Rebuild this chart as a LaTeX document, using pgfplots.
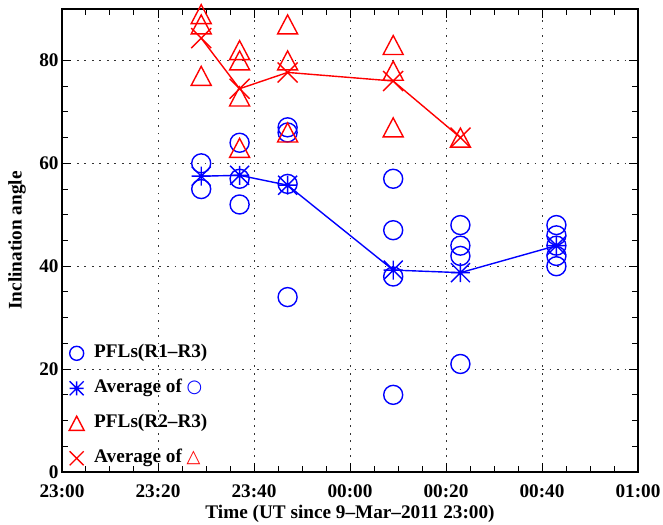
\documentclass[border=0pt]{standalone}
\usepackage{pgfplots}
\pgfplotsset{compat=1.18}
\usepackage{fontspec}
\setmainfont{Liberation Serif}
\newfontfamily\dejavu{DejaVu Sans}

\pgfdeclareplotmark{idlstar}{%
  \pgfpathmoveto{\pgfqpoint{-\pgfplotmarksize}{0pt}}\pgfpathlineto{\pgfqpoint{\pgfplotmarksize}{0pt}}%
  \pgfpathmoveto{\pgfqpoint{0pt}{-\pgfplotmarksize}}\pgfpathlineto{\pgfqpoint{0pt}{\pgfplotmarksize}}%
  \pgfpathmoveto{\pgfqpoint{-\pgfplotmarksize}{-\pgfplotmarksize}}\pgfpathlineto{\pgfqpoint{\pgfplotmarksize}{\pgfplotmarksize}}%
  \pgfpathmoveto{\pgfqpoint{-\pgfplotmarksize}{\pgfplotmarksize}}\pgfpathlineto{\pgfqpoint{\pgfplotmarksize}{-\pgfplotmarksize}}%
  \pgfusepathqstroke}
\pgfdeclareplotmark{idlx}{%
  \pgfpathmoveto{\pgfqpoint{-\pgfplotmarksize}{-\pgfplotmarksize}}\pgfpathlineto{\pgfqpoint{\pgfplotmarksize}{\pgfplotmarksize}}%
  \pgfpathmoveto{\pgfqpoint{-\pgfplotmarksize}{\pgfplotmarksize}}\pgfpathlineto{\pgfqpoint{\pgfplotmarksize}{-\pgfplotmarksize}}%
  \pgfusepathqstroke}
\pgfdeclareplotmark{idltri}{%
  \pgfpathmoveto{\pgfqpoint{0pt}{0.95\pgfplotmarksize}}%
  \pgfpathlineto{\pgfqpoint{\pgfplotmarksize}{-0.95\pgfplotmarksize}}%
  \pgfpathlineto{\pgfqpoint{-\pgfplotmarksize}{-0.95\pgfplotmarksize}}%
  \pgfpathclose\pgfusepathqstroke}

\pgfplotstableread{
x y
29 60
29 55
37 64
37 57
37 52
47 67
47 66
47 56
47 34
69 57
69 47
69 38
69 15
83 48
83 44
83 42
83 21
103 48
103 46
103 44
103 42
103 40
}\circdata
\pgfplotstableread{
x y
29 57.5
37 57.67
47 55.75
69 39.25
83 38.75
103 44
}\stardata
\pgfplotstableread{
x y
29 89
29 87
29 77
37 82
37 80
37 73
37 63
47 87
47 80
47 66
69 83
69 78
69 67
83 65
}\tridata
\pgfplotstableread{
x y
29 84.33
37 74.5
47 77.67
69 76
83 65
}\crossdata

\begin{document}
\begin{tikzpicture}
\path[use as bounding box] (-62bp,-53bp) rectangle (601bp,472bp);
\begin{axis}[
  scale only axis, width=576bp, height=463bp,
  xmin=0, xmax=120, ymin=0, ymax=90,
  xtick={0,20,...,120},
  xticklabels={23:00,23:20,23:40,00:00,00:20,00:40,01:00},
  ytick={0,20,...,80},
  minor x tick num=3, minor y tick num=3,
  tick align=inside,
  major tick length=9bp, minor tick length=6bp,
  every tick/.style={black, line width=1bp},
  axis line style={black, line width=1.2bp},
  grid=major,
  major grid style={black!80, line width=0.9bp, dash pattern=on 1.6bp off 5.9bp},
  /pgf/number format/assume math mode=true,
  tick label style={font=\fontsize{19.3}{23}\selectfont\bfseries},
  xticklabel style={anchor=base, yshift=-25bp},
  label style={font=\fontsize{19.3}{23}\selectfont\bfseries},
  xlabel={Time (UT since 9–Mar–2011 23:00)},
  ylabel={Inclination angle},
  xlabel style={at={(axis description cs:0.5,0)}, anchor=center, yshift=-42bp},
  ylabel style={at={(axis description cs:-0.0781,0.5)}, anchor=center},
  clip=false,
  legend cell align=left,
  legend image code/.code={\draw[mark repeat=2,mark phase=2,#1] plot coordinates {(0bp,0bp)(7bp,0bp)(14bp,0bp)};},
  legend style={draw=none, fill=none, at={(0,0)}, anchor=south west, xshift=4bp, yshift=1bp,
    font=\fontsize{19.3}{23}\selectfont\bfseries, row sep=14bp,
    /tikz/every odd column/.append style={column sep=9bp},
    nodes={inner sep=1bp, text height=14bp, text depth=5bp}},
]
\addplot[forget plot, blue, line width=1.4bp] table {\stardata};
\addplot[forget plot, red, line width=1.4bp] table {\crossdata};
\addplot[only marks, blue, mark=o, mark size=9.5bp, mark options={line width=1.4bp}, legend image post style={mark size=7bp}] table {\circdata};
\addlegendentry{PFLs(R1–R3)}
\addplot[only marks, blue, mark=idlstar, mark size=9.5bp, mark options={line width=1.4bp}, legend image post style={mark size=7bp}] table {\stardata};
\addlegendentry{Average of {\color{blue}\dejavu\mdseries\fontsize{18}{18}\selectfont ○}}
\addplot[only marks, red, mark=idltri, mark size=10bp, mark options={line width=1.4bp}, legend image post style={mark size=7.5bp}] table {\tridata};
\addlegendentry{PFLs(R2–R3)}
\addplot[only marks, red, mark=idlx, mark size=10bp, mark options={line width=1.4bp}, legend image post style={mark size=7bp}] table {\crossdata};
\addlegendentry{Average of {\color{red}\dejavu\mdseries\fontsize{18}{18}\selectfont △}}
\end{axis}
\end{tikzpicture}
\end{document}
